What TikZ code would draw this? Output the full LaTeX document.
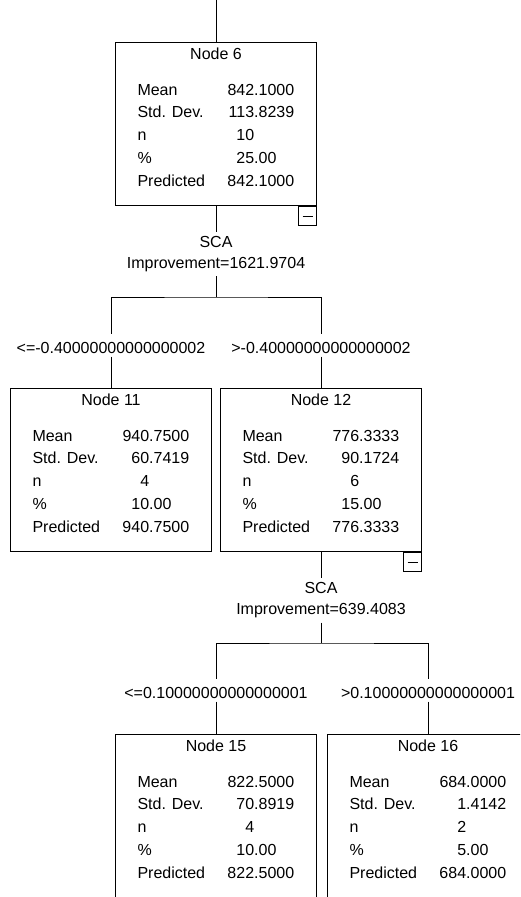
\documentclass[tikz,border=0pt]{standalone}
\usepackage{fontspec}
\setmainfont{Liberation Sans}
\usepackage{tikz}
\usetikzlibrary{calc}

\begin{document}
\begin{tikzpicture}[x=1pt,y=-1pt,line width=1pt,
  font=\fontsize{16}{22.8}\selectfont,
  box/.style={draw, minimum width=201pt, minimum height=163pt, inner sep=0pt, anchor=north},
  title/.style={anchor=base, inner sep=0pt},
  stats/.style={anchor=base west, inner sep=0pt},
  split/.style={anchor=north, align=center, inner ysep=4pt, font=\fontsize{16}{21}\selectfont},
  cond/.style={anchor=base, inner xsep=0pt, inner ysep=3pt, text height=16pt, text depth=0pt},
  fold/.style={draw, anchor=north east, minimum width=18pt, minimum height=19pt, inner sep=0pt,
    path picture={\draw ([xshift=-5pt]path picture bounding box.center)
      -- ([xshift=5pt]path picture bounding box.center);}}]
  \def\ya{42}    % top of first row of boxes
  \def\yb{388}   % second row
  \def\yc{734}   % third row
  \def\stats#1#2#3#4#5{\begin{tabular}[t]{@{}p{90pt}@{}r@{}l@{}}
    Mean&#1\\Std. Dev.&#2\\n&#3\\\%&#4\\Predicted&#5\end{tabular}}

  % Page frame
  \useasboundingbox (0,0) rectangle (520,897);
  \clip (0,0) rectangle (520,896);

  % Boxes
  \node[box] (n6)  at (216,\ya) {};
  \node[box] (n11) at (111,\yb) {};
  \node[box] (n12) at (321,\yb) {};
  \node[box] (n15) at (216,\yc) {};
  \node[box] (n16) at (428,\yc) {};

  % Box titles
  \node[title] (t6)  at ([yshift=-17pt]n6.north)  {Node 6};
  \node[title] (t11) at ([yshift=-17pt]n11.north) {Node 11};
  \node[title] (t12) at ([yshift=-17pt]n12.north) {Node 12};
  \node[title] (t15) at ([yshift=-17pt]n15.north) {Node 15};
  \node[title] (t16) at ([yshift=-17pt]n16.north) {Node 16};

  % Statistics
  \node[stats] (s6)  at ([xshift=22pt,yshift=-53pt]n6.north west)
    {\stats{842&.1000}{113&.8239}{10&}{25&.00}{842&.1000}};
  \node[stats] (s11) at ([xshift=22pt,yshift=-53pt]n11.north west)
    {\stats{940&.7500}{60&.7419}{4&}{10&.00}{940&.7500}};
  \node[stats] (s12) at ([xshift=22pt,yshift=-53pt]n12.north west)
    {\stats{776&.3333}{90&.1724}{6&}{15&.00}{776&.3333}};
  \node[stats] (s15) at ([xshift=22pt,yshift=-53pt]n15.north west)
    {\stats{822&.5000}{70&.8919}{4&}{10&.00}{822&.5000}};
  \node[stats] (s16) at ([xshift=22pt,yshift=-53pt]n16.north west)
    {\stats{684&.0000}{1&.4142}{2&}{5&.00}{684&.0000}};

  % Collapse buttons
  \node[fold] (b6)  at (n6.south east)  {};
  \node[fold] (b12) at (n12.south east) {};

  % Splits
  \node[split] (sp6)  at (216,232) {SCA\\Improvement=1621.9704};
  \node[split] (sp12) at (321,578) {SCA\\Improvement=639.4083};
  \coordinate (j6)  at (216,297);
  \coordinate (j12) at (321,643);

  % Conditions
  \node[cond] (c11) at (111,353) {<=-0.40000000000000002};
  \node[cond] (c12) at (321,353) {>-0.40000000000000002};
  \node[cond] (c15) at (216,698) {<=0.10000000000000001};
  \node[cond] (c16) at (428,698) {>0.10000000000000001};

  % Branches
  \coordinate (top) at (216,0);
  \draw (top) -- (n6.north);
  \draw (n6.south) -- (sp6.north);
  \draw (sp6.south) -- (j6);
  \draw (c11.north) |- (j6) -| (c12.north);
  \draw (c11.south) -- (n11.north);
  \draw (c12.south) -- (n12.north);
  \draw (n12.south) -- (sp12.north);
  \draw (sp12.south) -- (j12);
  \draw (c15.north) |- (j12) -| (c16.north);
  \draw (c15.south) -- (n15.north);
  \draw (c16.south) -- (n16.north);
\end{tikzpicture}
\end{document}
